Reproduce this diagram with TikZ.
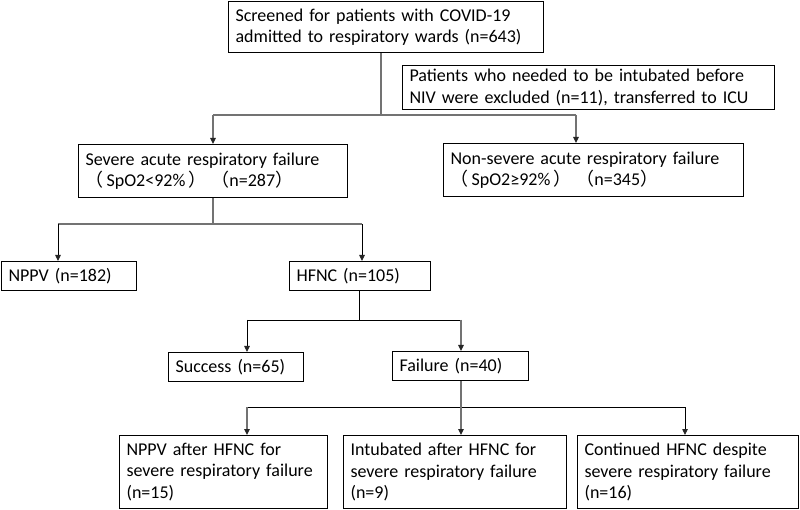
\documentclass[tikz,border=0pt]{standalone}
\usepackage{fontspec}
\setmainfont{Carlito}
\newfontfamily\cjk{Noto Sans CJK SC}
\usetikzlibrary{arrows.meta}
\begin{document}
\begin{tikzpicture}[x=1pt,y=-1pt,
  fbox/.style={draw, line width=1.1pt, anchor=north west, align=left,
    inner xsep=7pt, inner ysep=0pt, font=\fontsize{18}{21.5}\selectfont},
  gline/.style={draw=black!55, line width=1.2pt},
  bline/.style={draw=black, line width=0.85pt},
  tip/.style={-{Triangle[length=6pt,width=5.5pt,color=black!85]}},
]
\useasboundingbox (0,0) rectangle (800,510);
\fill[white] (0,0) rectangle (800,510);

% boxes
\node[fbox, text width=301pt, minimum height=51pt] (top) at (228,1)
  {Screened for patients with COVID-19\\admitted to respiratory wards (n=643)};
\node[fbox, text width=358pt, minimum height=44pt] (excl) at (402,65)
  {Patients who needed to be intubated before\\NIV were excluded (n=11), transferred to ICU};
\node[fbox, text width=255pt, minimum height=53pt] (severe) at (78,144)
  {Severe acute respiratory failure\\{\cjk（}\,SpO2<92\%\,{\cjk）}\hspace{5pt}{\cjk（}n=287{\cjk）}};
\node[fbox, text width=286pt, minimum height=53pt] (nonsev) at (443,143)
  {Non-severe acute respiratory failure\\{\cjk（}\,SpO2≥92\%\,{\cjk）}\hspace{5pt}{\cjk（}n=345{\cjk）}};
\node[fbox, text width=121pt, minimum height=29pt] (nppv) at (1,261) {NPPV (n=182)};
\node[fbox, text width=127pt, minimum height=29pt] (hfnc) at (289,261) {HFNC (n=105)};
\node[fbox, text width=121pt, minimum height=29pt] (succ) at (168,352) {Success (n=65)};
\node[fbox, text width=122pt, minimum height=29pt] (fail) at (392,351) {Failure (n=40)};
\node[fbox, text width=194pt, minimum height=73pt] (b1) at (119,435)
  {NPPV after HFNC for\\severe respiratory failure\\(n=15)};
\node[fbox, text width=209pt, minimum height=73pt] (b2) at (343,435)
  {Intubated after HFNC for\\severe respiratory failure\\(n=9)};
\node[fbox, text width=207pt, minimum height=73pt] (b3) at (577,435)
  {Continued HFNC despite\\severe respiratory failure\\(n=16)};

% level 1
\coordinate (j1) at (381,115);
\coordinate (l1a) at (213,115);
\coordinate (l1b) at (576,115);
\draw[gline] (j1 |- top.south) -- (j1);
\draw[gline] (l1a) -- (l1b);
\draw[gline, tip] (l1a) -- (l1a |- severe.north);
\draw[gline, tip] (l1b) -- (l1b |- nonsev.north);

% level 2
\coordinate (j2) at (213,224);
\coordinate (l2a) at (58,224);
\coordinate (l2b) at (362,224);
\draw[gline] (j2 |- severe.south) -- (j2);
\draw[gline] (l2a) -- (l2b);
\draw[bline, tip] (l2a) -- (l2a |- nppv.north);
\draw[bline, tip] (l2b) -- (l2b |- hfnc.north);

% level 3
\coordinate (j3) at (359,320);
\coordinate (l3a) at (247,320);
\coordinate (l3b) at (461,320);
\draw[bline] (j3 |- hfnc.south) -- (j3);
\draw[bline] (l3a) -- (l3b);
\draw[bline, tip] (l3a) -- (l3a |- succ.north);
\draw[gline, tip] (l3b) -- (l3b |- fail.north);

% level 4
\coordinate (j4) at (461,407);
\coordinate (l4a) at (247,407);
\coordinate (l4c) at (685,407);
\draw[gline] (j4 |- fail.south) -- (j4);
\draw[bline] (l4a) -- (l4c);
\draw[gline, tip] (l4a) -- (l4a |- b1.north);
\draw[gline, tip] (j4) -- (j4 |- b2.north);
\draw[bline, tip] (l4c) -- (l4c |- b3.north);
\end{tikzpicture}
\end{document}
